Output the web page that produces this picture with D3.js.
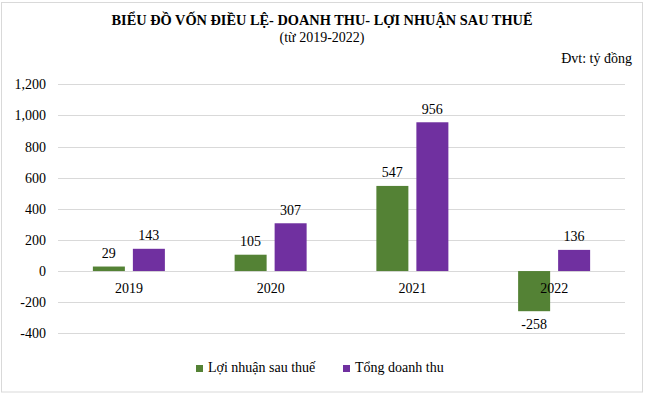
<!DOCTYPE html>
<html><head><meta charset="utf-8">
<script src="https://cdn.jsdelivr.net/npm/d3@7"></script>
<style>body{margin:0;background:#fff}svg{display:block}</style>
</head><body><svg id="c" width="647" height="396" font-family="Liberation Serif"></svg>
<script>
const years = ["2019","2020","2021","2022"];
const seriesNames = ["Lợi nhuận sau thuế","Tổng doanh thu"];
const profit = [29,105,547,-258];
const revenue = [143,307,956,136];
const yTicks = [-400,-200,0,200,400,600,800,1000,1200];
const colors = ["#548235","#7030A0"];

const svg = d3.select("#c");
svg.append("rect").attr("x",1.5).attr("y",2.5).attr("width",641).attr("height",389.5)
  .attr("fill","#fff").attr("stroke","#d9d9d9");

const left=58,right=625;
const y = d3.scaleLinear().domain([-400,1200]).range([333.3,84.3]);
const x0 = d3.scaleBand().domain(years).range([left,right]).paddingInner(0.492).paddingOuter(0.246);
const x1 = d3.scaleBand().domain([0,1]).range([0,x0.bandwidth()]).paddingInner(0.2).paddingOuter(0);

svg.append("g").selectAll("line").data(yTicks).join("line")
  .attr("x1",left).attr("x2",right).attr("y1",d=>Math.round(y(d))+0.5).attr("y2",d=>Math.round(y(d))+0.5)
  .attr("stroke","#d9d9d9");

const fmt = v => d3.format(",")(v).replace("−","-");
svg.append("g").selectAll("text").data(yTicks).join("text")
  .attr("x",46).attr("y",d=>y(d)+5).attr("text-anchor","end").attr("font-size",14)
  .text(d=>fmt(d));

const data = years.map((yr,i)=>({yr,vals:[profit[i],revenue[i]]}));
const g = svg.append("g").selectAll("g").data(data).join("g").attr("transform",d=>`translate(${x0(d.yr)},0)`);
g.selectAll("rect").data(d=>d.vals.map((v,k)=>({v,k}))).join("rect")
  .attr("x",d=>x1(d.k)).attr("width",x1.bandwidth())
  .attr("y",d=>y(Math.max(0,d.v))).attr("height",d=>Math.abs(y(d.v)-y(0)))
  .attr("fill",d=>colors[d.k]);
g.selectAll("text.v").data(d=>d.vals.map((v,k)=>({v,k}))).join("text").attr("class","v")
  .attr("x",d=>x1(d.k)+x1.bandwidth()/2).attr("y",d=>d.v>=0?y(d.v)-8.5:y(d.v)+18)
  .attr("text-anchor","middle").attr("font-size",14).text(d=>fmt(d.v));

svg.append("g").selectAll("text").data(years).join("text")
  .attr("x",d=>x0(d)+x0.bandwidth()/2).attr("y",y(0)+22).attr("text-anchor","middle")
  .attr("font-size",14).text(d=>d);

svg.append("text").attr("x",322).attr("y",25).attr("text-anchor","middle").attr("font-size",14)
  .attr("font-weight","bold").attr("textLength",421).attr("lengthAdjust","spacingAndGlyphs")
  .text("BIỂU ĐỒ VỐN ĐIỀU LỆ- DOANH THU- LỢI NHUẬN SAU THUẾ");
svg.append("text").attr("x",322).attr("y",42).attr("text-anchor","middle").attr("font-size",14)
  .text("(từ 2019-2022)");
svg.append("text").attr("x",632).attr("y",63).attr("text-anchor","end").attr("font-size",14)
  .text("Đvt: tỷ đồng");

const legX=[196,343];
const leg = svg.append("g").selectAll("g").data(seriesNames).join("g")
  .attr("transform",(d,i)=>`translate(${legX[i]},372)`);
leg.append("rect").attr("x",0).attr("y",-7).attr("width",7).attr("height",7).attr("fill",(d,i)=>colors[i]);
leg.append("text").attr("x",12).attr("y",0).attr("font-size",14).text(d=>d);
</script></body></html>
